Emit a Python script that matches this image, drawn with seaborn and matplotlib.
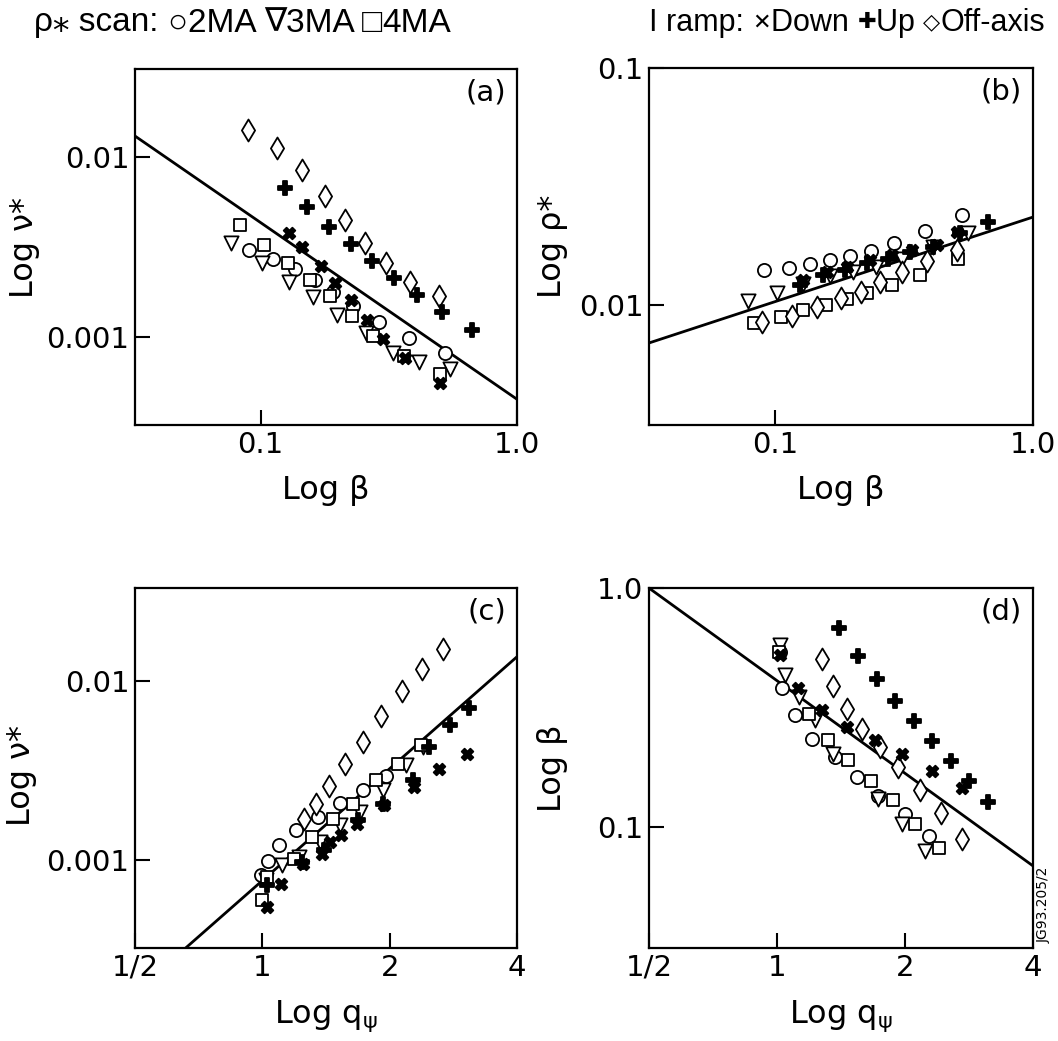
import matplotlib
matplotlib.use('Agg')
import matplotlib.pyplot as plt
from matplotlib.text import Annotation
import seaborn as sns

# ---- data ----
# (a) nu* vs beta
a_2ma_x = [0.0900, 0.1117, 0.1358, 0.1625, 0.1917, 0.2295, 0.2900, 0.3796, 0.5233]
a_2ma_y = [0.00304, 0.00270, 0.00238, 0.00208, 0.00177, 0.00148, 0.00121, 0.000987, 0.000809]
a_3ma_x = [0.0768, 0.1015, 0.1290, 0.1601, 0.1993, 0.2588, 0.3288, 0.4143, 0.5473]
a_3ma_y = [0.00334, 0.00257, 0.00203, 0.00166, 0.00133, 0.00105, 0.000815, 0.000727, 0.000659]
a_4ma_x = [0.0828, 0.1031, 0.1278, 0.1554, 0.1871, 0.2281, 0.2748, 0.3619, 0.5003]
a_4ma_y = [0.00419, 0.00324, 0.00257, 0.00208, 0.00168, 0.00130, 0.00101, 0.000782, 0.000619]
a_off_x = [0.0892, 0.1155, 0.1456, 0.1778, 0.2135, 0.2548, 0.3096, 0.3842, 0.4958]
a_off_y = [0.01422, 0.01122, 0.00851, 0.00608, 0.00446, 0.00331, 0.00257, 0.00201, 0.00169]
a_down_x = [0.1290, 0.1456, 0.1720, 0.1945, 0.2261, 0.2602, 0.3005, 0.3652, 0.5003]
a_down_y = [0.00379, 0.00315, 0.00248, 0.00199, 0.00160, 0.00124, 0.000975, 0.000765, 0.000556]
a_up_x = [0.1249, 0.1522, 0.1849, 0.2261, 0.2730, 0.3307, 0.4079, 0.5109, 0.6689]
a_up_y = [0.00677, 0.00528, 0.00410, 0.00327, 0.00264, 0.00212, 0.00172, 0.00137, 0.00109]
a_fit_x = [0.0324, 1.0]
a_fit_y = [0.0131, 0.00045]

# (b) rho* vs beta
b_2ma_x = [0.0907, 0.1133, 0.1367, 0.1633, 0.1953, 0.2348, 0.2891, 0.3814, 0.5322]
b_2ma_y = [0.0141, 0.0144, 0.0149, 0.0155, 0.0161, 0.0169, 0.0183, 0.0205, 0.0240]
b_3ma_x = [0.0788, 0.1021, 0.1288, 0.1633, 0.2012, 0.2462, 0.3097, 0.4109, 0.5615]
b_3ma_y = [0.0104, 0.0112, 0.0123, 0.0132, 0.0138, 0.0145, 0.0157, 0.0176, 0.0201]
b_4ma_x = [0.0829, 0.1052, 0.1288, 0.1572, 0.1895, 0.2266, 0.2833, 0.3648, 0.5135]
b_4ma_y = [0.00842, 0.00893, 0.00953, 0.0100, 0.0106, 0.0112, 0.0121, 0.0134, 0.0156]
b_off_x = [0.0888, 0.1160, 0.1459, 0.1797, 0.2148, 0.2553, 0.3097, 0.3872, 0.5059]
b_off_y = [0.00850, 0.00901, 0.00977, 0.0107, 0.0114, 0.0125, 0.0138, 0.0154, 0.0171]
b_down_x = [0.1288, 0.1586, 0.1895, 0.2334, 0.2833, 0.3386, 0.4233, 0.5059]
b_down_y = [0.0128, 0.0138, 0.0145, 0.0155, 0.0163, 0.0171, 0.0179, 0.0204]
b_up_x = [0.1250, 0.1539, 0.1867, 0.2266, 0.2750, 0.3336, 0.4109, 0.5213, 0.6711]
b_up_y = [0.0121, 0.0134, 0.0141, 0.0150, 0.0157, 0.0168, 0.0176, 0.0201, 0.0223]
b_fit_x = [0.0325, 1.0]
b_fit_y = [0.00692, 0.0235]

# (c) nu* vs q_psi
c_2ma_x = [0.991, 1.031, 1.094, 1.204, 1.351, 1.527, 1.725, 1.964]
c_2ma_y = [0.000824, 0.000987, 0.00121, 0.00147, 0.00175, 0.00209, 0.00248, 0.00294]
c_3ma_x = [1.018, 1.114, 1.219, 1.370, 1.527, 1.701, 1.929, 2.188, 2.395]
c_3ma_y = [0.000773, 0.000938, 0.00104, 0.00127, 0.00157, 0.00186, 0.00246, 0.00339, 0.00429]
c_4ma_x = [1.0, 1.027, 1.187, 1.310, 1.472, 1.641, 1.861, 2.092, 2.373]
c_4ma_y = [0.000598, 0.000807, 0.00102, 0.00135, 0.00171, 0.00207, 0.00280, 0.00347, 0.00439]
c_off_x = [1.257, 1.339, 1.439, 1.568, 1.725, 1.912, 2.134, 2.387, 2.678]
c_off_y = [0.00171, 0.00205, 0.00260, 0.00344, 0.00458, 0.00637, 0.00883, 0.01167, 0.01503]
c_down_x = [1.027, 1.104, 1.248, 1.383, 1.446, 1.532, 1.676, 1.936, 2.281, 2.620, 3.053]
c_down_y = [0.000548, 0.000741, 0.000958, 0.00109, 0.00127, 0.00138, 0.00160, 0.00203, 0.00257, 0.00325, 0.00394]
c_up_x = [1.027, 1.241, 1.395, 1.686, 1.929, 2.269, 2.483, 2.776, 3.081]
c_up_y = [0.000725, 0.000979, 0.00114, 0.00167, 0.00207, 0.00280, 0.00429, 0.00567, 0.00704]
c_fit_x = [0.659, 4.0]
c_fit_y = [0.000324, 0.0137]

# (d) beta vs q_psi
d_2ma_x = [1.018, 1.027, 1.100, 1.208, 1.370, 1.540, 1.732, 2.0, 2.277]
d_2ma_y = [0.541, 0.380, 0.293, 0.234, 0.196, 0.161, 0.135, 0.113, 0.0917]
d_3ma_x = [1.018, 1.046, 1.124, 1.230, 1.358, 1.732, 1.964, 2.228]
d_3ma_y = [0.578, 0.432, 0.350, 0.279, 0.202, 0.131, 0.103, 0.0793]
d_4ma_x = [1.009, 1.187, 1.317, 1.472, 1.665, 1.878, 2.111, 2.403]
d_4ma_y = [0.541, 0.298, 0.230, 0.190, 0.156, 0.129, 0.103, 0.0813]
d_off_x = [1.275, 1.356, 1.459, 1.589, 1.747, 1.929, 2.169, 2.429, 2.727]
d_off_y = [0.503, 0.388, 0.310, 0.256, 0.216, 0.178, 0.143, 0.114, 0.0893]
d_down_x = [1.018, 1.120, 1.275, 1.465, 1.701, 1.971, 2.318, 2.717]
d_down_y = [0.524, 0.380, 0.308, 0.262, 0.230, 0.201, 0.172, 0.146]
d_up_x = [1.400, 1.554, 1.716, 1.895, 2.099, 2.310, 2.560, 2.831, 3.137]
d_up_y = [0.683, 0.521, 0.414, 0.337, 0.277, 0.228, 0.188, 0.155, 0.127]
d_fit_x = [0.5, 4.0]
d_fit_y = [1.0, 0.0686]

beta_ticks = [0.1, 1.0]
beta_labels = ['0.1', '1.0']
q_ticks = [0.5, 1, 2, 4]
q_labels = ['1/2', '1', '2', '4']

# header "legends": (text, is_symbol)
header_left = [('ρ⁎ scan: ', False), ('○', True), ('2MA ', False), ('∇', True),
               ('3MA ', False), ('□', True), ('4MA', False)]
header_right = [('I ramp: ', False), ('✕', True), ('Down ', False), ('✚', True),
                ('Up ', False), ('◇', True), ('Off-axis', False)]

# ---- style ----
sns.set_style('ticks')
plt.rcParams['font.family'] = ['DejaVu Sans']
plt.rcParams['mathtext.fontset'] = 'dejavusans'
plt.rcParams['text.color'] = 'black'
plt.rcParams['axes.labelcolor'] = 'black'
plt.rcParams['xtick.color'] = 'black'
plt.rcParams['ytick.color'] = 'black'

marker_styles = {
    '2MA': dict(marker='o', s=90, color='white'),
    '3MA': dict(marker='v', s=105, color='white'),
    '4MA': dict(marker='s', s=75, color='white'),
    'Off-axis': dict(marker='d', s=125, color='white'),
    'Down': dict(marker='X', s=70, color='black'),
    'Up': dict(marker='P', s=95, color='black'),
}

fig = plt.figure(figsize=(10.58, 10.41), dpi=100)
ax_a = fig.add_axes([0.1276, 0.5917, 0.3611, 0.342])
ax_b = fig.add_axes([0.6134, 0.5917, 0.3629, 0.343])
ax_c = fig.add_axes([0.1276, 0.0893, 0.3611, 0.3458])
ax_d = fig.add_axes([0.6134, 0.0893, 0.3629, 0.3458])

panels = [
    (ax_a, '(a)', {'2MA': (a_2ma_x, a_2ma_y), '3MA': (a_3ma_x, a_3ma_y), '4MA': (a_4ma_x, a_4ma_y),
                   'Off-axis': (a_off_x, a_off_y), 'Down': (a_down_x, a_down_y), 'Up': (a_up_x, a_up_y)},
     (a_fit_x, a_fit_y)),
    (ax_b, '(b)', {'2MA': (b_2ma_x, b_2ma_y), '3MA': (b_3ma_x, b_3ma_y), '4MA': (b_4ma_x, b_4ma_y),
                   'Off-axis': (b_off_x, b_off_y), 'Down': (b_down_x, b_down_y), 'Up': (b_up_x, b_up_y)},
     (b_fit_x, b_fit_y)),
    (ax_c, '(c)', {'2MA': (c_2ma_x, c_2ma_y), '3MA': (c_3ma_x, c_3ma_y), '4MA': (c_4ma_x, c_4ma_y),
                   'Off-axis': (c_off_x, c_off_y), 'Down': (c_down_x, c_down_y), 'Up': (c_up_x, c_up_y)},
     (c_fit_x, c_fit_y)),
    (ax_d, '(d)', {'2MA': (d_2ma_x, d_2ma_y), '3MA': (d_3ma_x, d_3ma_y), '4MA': (d_4ma_x, d_4ma_y),
                   'Off-axis': (d_off_x, d_off_y), 'Down': (d_down_x, d_down_y), 'Up': (d_up_x, d_up_y)},
     (d_fit_x, d_fit_y)),
]

for ax, tag, series, fit in panels:
    ax.set_yscale('log')
    if ax in (ax_a, ax_b):
        ax.set_xscale('log')
    else:
        ax.set_xscale('log', base=2)
    sns.lineplot(x=fit[0], y=fit[1], color='black', linewidth=2.0, ax=ax, zorder=2)
    for name, (xs, ys) in series.items():
        st = marker_styles[name]
        sns.scatterplot(x=xs, y=ys, marker=st['marker'], s=st['s'], color=st['color'],
                        edgecolor='black', linewidth=1.3, ax=ax, zorder=3)
    ax.text(0.972, 0.935, tag, transform=ax.transAxes, ha='right', va='center', fontsize=21)
    for sp in ax.spines.values():
        sp.set_linewidth(1.6)
        sp.set_color('black')

# axis ranges and ticks
ax_a.set_xlim(0.0324, 1.0)
ax_a.set_ylim(10 ** -3.49, 10 ** -1.51)
ax_a.set_yticks([0.001, 0.01], ['0.001', '0.01'])
ax_b.set_xlim(0.0325, 1.0)
ax_b.set_ylim(10 ** -2.506, 0.1)
ax_b.set_yticks([0.01, 0.1], ['0.01', '0.1'])
ax_c.set_xlim(0.5, 4)
ax_c.set_ylim(10 ** -3.49, 10 ** -1.48)
ax_c.set_yticks([0.001, 0.01], ['0.001', '0.01'])
ax_d.set_xlim(0.5, 4)
ax_d.set_ylim(10 ** -1.508, 1.0)
ax_d.set_yticks([0.1, 1.0], ['0.1', '1.0'])
for ax in (ax_a, ax_b):
    ax.set_xticks(beta_ticks, beta_labels)
    ax.set_xlabel('Log β', fontsize=23)
for ax in (ax_c, ax_d):
    ax.set_xticks(q_ticks, q_labels)
    ax.set_xlabel('Log q$_{\\mathrm{ψ}}$', fontsize=23)
ax_a.set_ylabel('Log ν*', fontsize=23)
ax_b.set_ylabel('Log ρ*', fontsize=23)
ax_c.set_ylabel('Log ν*', fontsize=23)
ax_d.set_ylabel('Log β', fontsize=23)

for ax in (ax_a, ax_b, ax_c, ax_d):
    ax.minorticks_off()
    ax.tick_params(which='major', direction='in', length=11, width=1.5,
                   labelsize=21, pad=4, top=False, right=False, colors='black')
    ax.xaxis.set_label_coords(0.5, -0.14)

ax_a.yaxis.set_label_coords(-0.249, 0.5)
ax_b.yaxis.set_label_coords(-0.211, 0.5)
ax_c.yaxis.set_label_coords(-0.257, 0.48)
ax_d.yaxis.set_label_coords(-0.211, 0.5)


def draw_header(pieces, x0, text_size, sym_size):
    first, _ = pieces[0]
    prev = fig.text(x0, 1 - 23 / 1041, first, ha='left', va='center', fontsize=text_size,
                    family=['Liberation Sans', 'DejaVu Sans'], color='black')
    for txt, is_sym in pieces[1:]:
        ann = Annotation(txt, xy=(1, 0.5), xycoords=prev, ha='left', va='center',
                         fontsize=sym_size if is_sym else text_size,
                         family=['Liberation Sans', 'DejaVu Sans'], color='black')
        fig.add_artist(ann)
        prev = ann


draw_header(header_left, 34 / 1058, 24, 24)
draw_header(header_right, 649 / 1058, 22, 16)
fig.text(1044 / 1058, 1 - 905 / 1041, 'JG93.205/2', rotation=90, ha='center', va='center',
         fontsize=10, color='black')

fig.savefig('out.png', dpi=100)
